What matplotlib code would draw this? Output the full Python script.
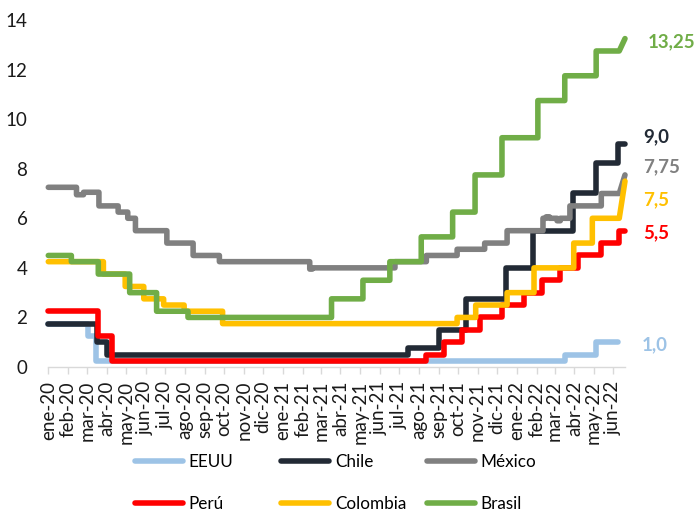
import matplotlib
matplotlib.use("Agg")
import matplotlib.pyplot as plt
from matplotlib.lines import Line2D
import pandas as pd

plt.rcParams['font.family'] = ['Lato', 'DejaVu Sans']

# Tasas de política monetaria (%), fechas de cada cambio
MESES = ["ene", "feb", "mar", "abr", "may", "jun",
         "jul", "ago", "sep", "oct", "nov", "dic"]

RAMP_START = "2022-06-10"   # última lectura antes del dato final
LAST_OBS = "2022-06-19"     # último dato de la serie

eeuu_dates = ["2020-01-01", "2020-03-03", "2020-03-16", "2022-03-17", "2022-05-05"]
eeuu_rates = [1.75, 1.25, 0.25, 0.50, 1.00]
eeuu_end = "2022-06-08"

chile_dates = ["2020-01-01", "2020-03-17", "2020-04-01", "2021-07-15", "2021-09-01",
               "2021-10-14", "2021-12-15", "2022-01-27", "2022-03-30", "2022-05-04",
               "2022-06-08"]
chile_rates = [1.75, 1.00, 0.50, 0.75, 1.50, 2.75, 4.00, 5.50, 7.00, 8.25, 9.00]

mexico_dates = ["2020-01-01", "2020-02-14", "2020-02-25", "2020-03-20", "2020-04-19",
                "2020-05-04", "2020-05-16", "2020-07-04", "2020-08-14", "2020-09-24",
                "2021-02-12", "2021-02-16", "2021-06-25", "2021-08-13", "2021-09-30",
                "2021-11-12", "2021-12-17", "2022-02-11", "2022-02-16", "2022-02-21",
                "2022-03-05", "2022-03-10", "2022-03-25", "2022-05-13", "2022-06-19"]
mexico_rates = [7.25, 6.95, 7.05, 6.50, 6.25, 6.00, 5.50, 5.00, 4.50, 4.25,
                3.95, 4.00, 4.25, 4.50, 4.75, 5.00, 5.50, 6.00, 6.06, 6.00,
                5.90, 6.00, 6.50, 7.00, 7.75]

peru_dates = ["2020-01-01", "2020-03-19", "2020-04-09", "2021-08-12", "2021-09-09",
              "2021-10-07", "2021-11-04", "2021-12-09", "2022-01-13", "2022-02-10",
              "2022-03-10", "2022-04-07", "2022-05-12", "2022-06-09"]
peru_rates = [2.25, 1.25, 0.25, 0.50, 1.00, 1.50, 2.00, 2.50, 3.00, 3.50,
              4.00, 4.50, 5.00, 5.50]

colombia_dates = ["2020-01-01", "2020-03-27", "2020-04-30", "2020-05-29", "2020-06-29",
                  "2020-07-31", "2020-09-29", "2021-09-30", "2021-10-29", "2021-12-17",
                  "2022-01-28", "2022-03-31", "2022-04-29", "2022-06-19"]
colombia_rates = [4.25, 3.75, 3.25, 2.75, 2.50, 2.25, 1.75, 2.00, 2.50, 3.00,
                  4.00, 5.00, 6.00, 7.50]

brasil_dates = ["2020-01-01", "2020-02-06", "2020-03-19", "2020-05-07", "2020-06-18",
                "2020-08-06", "2021-03-18", "2021-05-06", "2021-06-17", "2021-08-05",
                "2021-09-23", "2021-10-28", "2021-12-09", "2022-02-03", "2022-03-17",
                "2022-05-05", "2022-06-19"]
brasil_rates = [4.50, 4.25, 3.75, 3.00, 2.25, 2.00, 2.75, 3.50, 4.25, 5.25,
                6.25, 7.75, 9.25, 10.75, 11.75, 12.75, 13.25]

# nombre, fechas, tasas, fin, color, decimales de la etiqueta, desplazamiento etiqueta (pt)
series = [
    ("EEUU", eeuu_dates, eeuu_rates, eeuu_end, "#9DC3E6", 1, (17, -1.5)),
    ("Chile", chile_dates, chile_rates, LAST_OBS, "#222A35", 1, (13, 5)),
    ("México", mexico_dates, mexico_rates, LAST_OBS, "#808080", 2, (13, 5.7)),
    ("Perú", peru_dates, peru_rates, LAST_OBS, "#FF0000", 1, (13, -1.7)),
    ("Colombia", colombia_dates, colombia_rates, LAST_OBS, "#FFC000", 1, (13, -13.7)),
    ("Brasil", brasil_dates, brasil_rates, LAST_OBS, "#70AD47", 2, (16.5, -2.6)),
]


def step_path(dates, rates, end):
    d = pd.to_datetime(dates)
    ramp = pd.Timestamp(RAMP_START)
    xs, ys = [d[0]], [rates[0]]
    for i in range(1, len(d)):
        if d[i] > ramp:
            xs += [ramp, d[i]]
            ys += [rates[i - 1], rates[i]]
        else:
            xs += [d[i], d[i]]
            ys += [rates[i - 1], rates[i]]
    if pd.Timestamp(end) > xs[-1]:
        xs.append(pd.Timestamp(end))
        ys.append(rates[-1])
    return xs, ys


W, H = 697, 511
fig = plt.figure(figsize=(W / 100, H / 100), dpi=100)
ax = fig.add_axes([48.3 / W, 1 - 367 / H, (625 - 48.3) / W, (367 - 20) / H])

LW = 4.0
handles = []
for name, dts, rts, end, color, dec, off in series:
    xs, ys = step_path(dts, rts, end)
    ax.plot(xs, ys, color=color, lw=LW, solid_capstyle="round",
            solid_joinstyle="round", clip_on=False)
    label = f"{rts[-1]:.{dec}f}".replace(".", ",")
    ax.annotate(label, xy=(pd.Timestamp(end), rts[-1]), xytext=off,
                textcoords="offset points", color=color, fontsize=13.5,
                fontweight="bold", ha="left", va="center",
                annotation_clip=False)
    handles.append(Line2D([], [], color=color, lw=LW, solid_capstyle="round"))

ax.set_ylim(0, 14)
ax.set_yticks(range(0, 15, 2))
ax.set_xlim(pd.Timestamp("2020-01-01"), pd.Timestamp(LAST_OBS))

months = pd.date_range("2020-01-01", "2022-06-01", freq="MS")
ax.set_xticks(months)
ax.set_xticklabels([f"{MESES[m.month - 1]}-{m.year % 100:02d}" for m in months],
                   rotation=90, ha="center", va="top")

for s in ("top", "right", "left"):
    ax.spines[s].set_visible(False)
ax.spines["bottom"].set_color("#D9D9D9")
ax.spines["bottom"].set_linewidth(1.0)

ax.tick_params(axis="x", length=5, width=1, color="#D9D9D9", pad=5,
               labelsize=13.5, labelcolor="#1a1a1a")
ax.tick_params(axis="y", length=0, pad=15, labelsize=13.5, labelcolor="#1a1a1a")

# Leyenda: tres columnas de dos filas
names = [s[0] for s in series]
col_x = [135, 281, 427]
for c in range(3):
    fig.legend([handles[c], handles[c + 3]], [names[c], names[c + 3]],
               loc="upper left", bbox_to_anchor=(col_x[c] / W, 1 - 454 / H),
               frameon=False, fontsize=12.3, handlelength=2.8,
               handletextpad=0.35, labelspacing=1.55, borderpad=0,
               borderaxespad=0)

fig.savefig("out.png", dpi=100)
